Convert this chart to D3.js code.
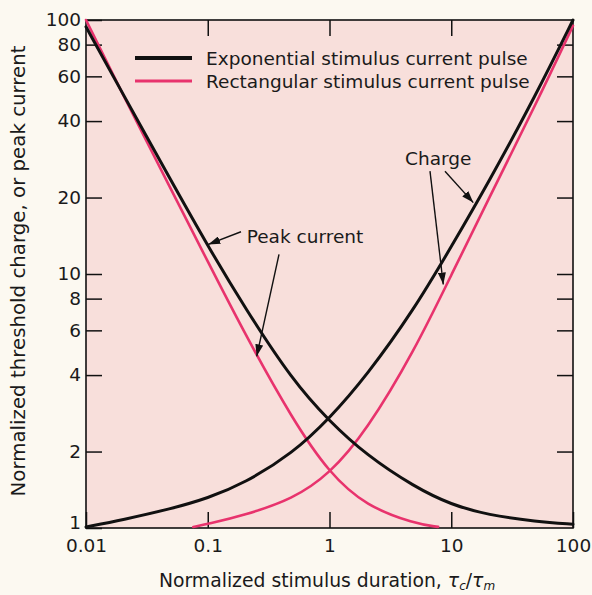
<!DOCTYPE html>
<html><head><meta charset="utf-8">
<script src="https://cdn.jsdelivr.net/npm/d3@7"></script>
<style>html,body{margin:0;padding:0;background:#fcf9f1;} svg{display:block}</style>
</head><body><svg id="c" width="592" height="595"></svg>
<script>
// ---- data ----
const xTickValues = [0.01, 0.1, 1, 10, 100];
const xTickLabels = ["0.01", "0.1", "1", "10", "100"];
const yTickValues = [1, 2, 4, 6, 8, 10, 20, 40, 60, 80, 100];
const yTickLabels = ["1", "2", "4", "6", "8", "10", "20", "40", "60", "80", "100"];

const expDur    = [0.01, 0.02, 0.05, 0.1, 0.2, 0.5, 1, 2, 5, 10, 20, 50, 100];
const expPeak   = [94, 51.4, 23.3, 12.9, 7.41, 3.79, 2.63, 1.94, 1.45, 1.235, 1.125, 1.06, 1.035];
const expCharge = [1.01, 1.077, 1.19, 1.31, 1.5, 1.97, 2.7, 3.95, 7.3, 12.8, 22.7, 51, 100];

const rectPeakDur   = [0.01, 0.02, 0.05, 0.1, 0.2, 0.5, 1, 2, 5, 7.8];
const rectPeak      = [100, 51, 21.5, 11.2, 5.85, 2.66, 1.64, 1.22, 1.04, 1.01];
const rectChargeDur = [0.076, 0.1, 0.2, 0.5, 1, 2, 5, 10, 20, 50, 100];
const rectCharge    = [1.01, 1.037, 1.123, 1.3, 1.63, 2.4, 5.0, 9.9, 19.5, 47, 95];

const seriesNames = ["Exponential stimulus current pulse", "Rectangular stimulus current pulse"];
const seriesColors = ["#111111", "#e8336d"];

// annotation anchors in data space: [x, y]
const peakLabel = {text: "Peak current", at: [0.209, 13.19],
  arrows: [[[0.1875, 14.67], [0.101, 13.07]], [[0.3847, 11.94], [0.2524, 4.74]]]};
const chargeLabel = {text: "Charge", at: [4.17, 26.9],
  arrows: [[[8.88, 25.4], [15.17, 19.1]], [[6.69, 25.4], [8.6, 9.09]]]};

// ---- drawing ----
const svg = d3.select("#c");
const FONT = "DejaVu Sans, sans-serif";
const FS = 18.5;
const L = 86, R = 573, T = 20, B = 528;
const x = d3.scaleLog().domain([0.01, 100]).range([L, R]);
const y = d3.scaleLog().domain([1, 100]).range([B, T]);

svg.append("rect").attr("width", 592).attr("height", 595).attr("fill", "#fcf9f1");
svg.append("rect").attr("x", L).attr("y", T).attr("width", R - L).attr("height", B - T)
  .attr("fill", "#f8dfdb");

const defs = svg.append("defs");
defs.append("marker").attr("id", "ah").attr("viewBox", "0 0 12 8")
  .attr("refX", 12).attr("refY", 4).attr("markerWidth", 12).attr("markerHeight", 8)
  .attr("markerUnits", "userSpaceOnUse").attr("orient", "auto")
  .append("path").attr("d", "M0,0 L12,4 L0,8 Z").attr("fill", "#111");

function styleAxis(g) {
  g.select(".domain").remove();
  g.selectAll(".tick line").attr("stroke", "#111").attr("stroke-width", 1.5);
  g.selectAll(".tick text").attr("font-family", FONT).attr("font-size", FS).attr("fill", "#1a1a1a");
}

// bottom axis with labels
svg.append("g").attr("transform", `translate(0,${B})`)
  .call(d3.axisBottom(x).tickValues(xTickValues).tickSize(-16).tickPadding(11)
    .tickFormat((d, i) => xTickLabels[i]))
  .call(styleAxis);
// top ticks
svg.append("g").attr("transform", `translate(0,${T})`)
  .call(d3.axisTop(x).tickValues(xTickValues.slice(1, -1)).tickSize(-16).tickFormat(""))
  .call(styleAxis);
// left axis with labels
const ly = svg.append("g").attr("transform", `translate(${L},0)`)
  .call(d3.axisLeft(y).tickValues(yTickValues).tickSize(-16).tickPadding(5)
    .tickFormat((d, i) => yTickLabels[i]))
  .call(styleAxis);
ly.selectAll(".tick text").filter(d => d === 1).attr("dy", "0.05em");
// right ticks
svg.append("g").attr("transform", `translate(${R},0)`)
  .call(d3.axisRight(y).tickValues(yTickValues.slice(1, -1)).tickSize(-16).tickFormat(""))
  .call(styleAxis);

// frame
svg.append("rect").attr("x", L).attr("y", T).attr("width", R - L).attr("height", B - T)
  .attr("fill", "none").attr("stroke", "#111").attr("stroke-width", 1.6);

// curves
const line = d3.line().x(d => x(d[0])).y(d => y(d[1])).curve(d3.curveBasis);
const curves = [
  {xs: expDur, ys: expPeak, c: 0, w: 3},
  {xs: expDur, ys: expCharge, c: 0, w: 3},
  {xs: rectPeakDur, ys: rectPeak, c: 1, w: 2.6},
  {xs: rectChargeDur, ys: rectCharge, c: 1, w: 2.6}
];
[curves[2], curves[3], curves[0], curves[1]].forEach(cv => {
  svg.append("path").datum(cv.xs.map((v, i) => [v, cv.ys[i]]))
    .attr("d", line).attr("fill", "none").attr("stroke", seriesColors[cv.c])
    .attr("stroke-width", cv.w).attr("stroke-linecap", "round");
});

// legend
const lg = svg.append("g");
seriesNames.forEach((name, i) => {
  const yy = 58 + i * 23;
  lg.append("line").attr("x1", 135).attr("x2", 192).attr("y1", yy).attr("y2", yy)
    .attr("stroke", seriesColors[i]).attr("stroke-width", i === 0 ? 4 : 3);
  lg.append("text").attr("x", 206).attr("y", yy + 7).attr("font-family", FONT)
    .attr("font-size", FS).attr("fill", "#1a1a1a").text(name);
});

// annotations
[peakLabel, chargeLabel].forEach(a => {
  svg.append("text").attr("x", x(a.at[0])).attr("y", y(a.at[1]))
    .attr("font-family", FONT).attr("font-size", FS).attr("fill", "#1a1a1a").text(a.text);
  a.arrows.forEach(ar => {
    svg.append("line").attr("x1", x(ar[0][0])).attr("y1", y(ar[0][1]))
      .attr("x2", x(ar[1][0])).attr("y2", y(ar[1][1]))
      .attr("stroke", "#111").attr("stroke-width", 1.4).attr("marker-end", "url(#ah)");
  });
});

// axis titles
const xt = svg.append("text").attr("x", 327).attr("y", 587).attr("text-anchor", "middle")
  .attr("font-family", FONT).attr("font-size", 18.8).attr("fill", "#1a1a1a");
xt.append("tspan").text("Normalized stimulus duration, ");
xt.append("tspan").attr("font-style", "italic").text("τ");
xt.append("tspan").attr("font-style", "italic").attr("font-size", 12).attr("dy", 3).text("c");
xt.append("tspan").attr("dy", -3).text("/");
xt.append("tspan").attr("font-style", "italic").text("τ");
xt.append("tspan").attr("font-style", "italic").attr("font-size", 12).attr("dy", 3).text("m");

svg.append("text").attr("transform", `translate(25,271) rotate(-90)`).attr("text-anchor", "middle")
  .attr("font-family", FONT).attr("font-size", 19.8).attr("fill", "#1a1a1a")
  .text("Normalized threshold charge, or peak current");
</script></body></html>
